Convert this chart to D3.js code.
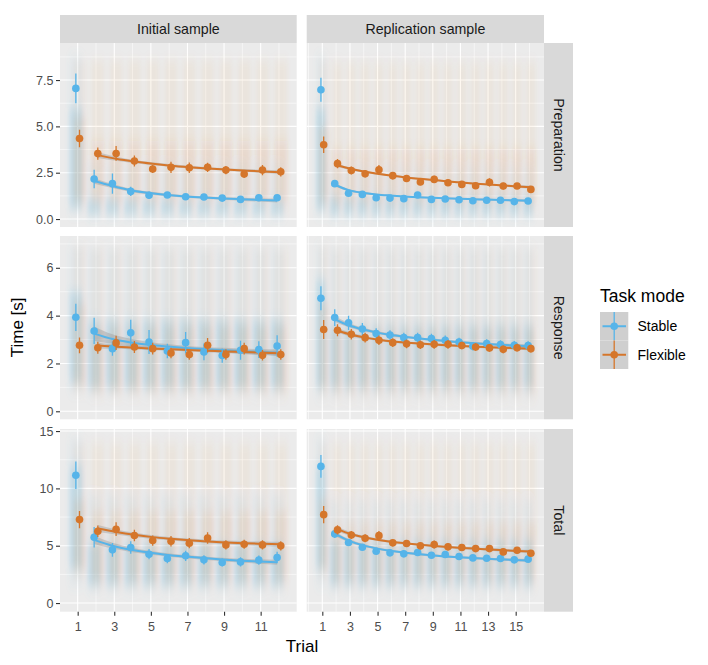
<!DOCTYPE html>
<html><head><meta charset="utf-8">
<script src="https://cdn.jsdelivr.net/npm/d3@7"></script>
<style>
body{margin:0;background:#fff}
svg{display:block}
text{font-family:"Liberation Sans",Arial,Helvetica,sans-serif}
</style>
</head><body>
<svg id="chart" width="708" height="665"></svg>
<script>
// ---------- categories ----------
const samples = ["Initial sample", "Replication sample"];
const measures = ["Preparation", "Response", "Total"];
const modes = ["Stable", "Flexible"];
const modeColors = ["#56B4E9", "#D5762B"];
const trialsInitial = [1,2,3,4,5,6,7,8,9,10,11,12];
const trialsReplication = [1,2,3,4,5,6,7,8,9,10,11,12,13,14,15,16];

// ---------- tick labels ----------
const xTicksInitial = [1,3,5,7,9,11];
const xMinorInitial = [2,4,6,8,10,12];
const xTicksReplication = [1,3,5,7,9,11,13,15];
const xMinorReplication = [0,2,4,6,8,10,12,14,16];
const yTicksPrep = [0,2.5,5,7.5];
const yMinorPrep = [1.25,3.75,6.25,8.75];
const yTicksResp = [0,2,4,6];
const yMinorResp = [1,3,5,7];
const yTicksTot = [0,5,10,15];
const yMinorTot = [2.5,7.5,12.5];

// ---------- means per trial ----------
const prepInitStable   = [7.05,2.16,1.91,1.49,1.28,1.30,1.20,1.19,1.13,1.06,1.15,1.15];
const prepInitFlexible = [4.35,3.53,3.54,3.13,2.70,2.79,2.77,2.79,2.64,2.43,2.64,2.55];
const prepRepStable    = [6.98,1.91,1.39,1.33,1.15,1.13,1.10,1.30,1.06,1.08,1.04,0.99,1.01,1.01,0.94,0.97];
const prepRepFlexible  = [4.01,2.99,2.62,2.44,2.66,2.34,2.19,2.00,2.14,1.96,1.87,1.80,1.98,1.78,1.78,1.60];
const respInitStable   = [3.93,3.36,2.62,3.28,2.90,2.52,2.87,2.48,2.33,2.55,2.58,2.73];
const respInitFlexible = [2.76,2.66,2.86,2.69,2.62,2.44,2.37,2.76,2.37,2.62,2.34,2.37];
const respRepStable    = [4.73,3.92,3.70,3.44,3.25,3.19,3.08,3.08,3.04,2.97,2.90,2.72,2.83,2.79,2.76,2.75];
const respRepFlexible  = [3.42,3.39,3.22,3.08,2.97,2.87,2.82,2.78,2.80,2.80,2.75,2.69,2.65,2.59,2.66,2.62];
const totInitStable    = [11.14,5.74,4.64,4.84,4.26,3.88,4.12,3.77,3.54,3.59,3.74,3.97];
const totInitFlexible  = [7.28,6.26,6.44,5.89,5.45,5.39,5.22,5.68,5.07,5.13,5.07,4.99];
const totRepStable     = [11.92,6.03,5.28,4.87,4.52,4.38,4.29,4.41,4.17,4.23,4.06,3.94,3.91,3.88,3.77,3.83];
const totRepFlexible   = [7.71,6.38,5.94,5.65,5.88,5.25,5.19,4.99,5.10,4.90,4.84,4.75,4.75,4.46,4.61,4.35];

// ---------- error bar half-widths ----------
const prepInitStableErr   = [0.80,0.50,0.55,0.25,0.20,0.15,0.15,0.15,0.12,0.12,0.15,0.15];
const prepInitFlexibleErr = [0.47,0.33,0.40,0.30,0.22,0.30,0.28,0.25,0.22,0.22,0.28,0.25];
const prepRepStableErr    = [0.65,0.15,0.12,0.10,0.10,0.10,0.10,0.12,0.10,0.10,0.10,0.10,0.10,0.10,0.10,0.10];
const prepRepFlexibleErr  = [0.45,0.25,0.22,0.20,0.25,0.20,0.18,0.18,0.20,0.18,0.16,0.16,0.22,0.18,0.16,0.16];
const respInitStableErr   = [0.57,0.55,0.30,0.55,0.50,0.30,0.45,0.35,0.30,0.40,0.35,0.45];
const respInitFlexibleErr = [0.33,0.25,0.30,0.25,0.25,0.22,0.22,0.30,0.22,0.25,0.22,0.22];
const respRepStableErr    = [0.50,0.35,0.30,0.25,0.22,0.20,0.20,0.20,0.20,0.20,0.18,0.18,0.18,0.18,0.18,0.18];
const respRepFlexibleErr  = [0.40,0.25,0.22,0.20,0.20,0.18,0.18,0.18,0.18,0.18,0.16,0.16,0.16,0.16,0.16,0.16];
const totInitStableErr    = [1.20,0.90,0.60,0.55,0.45,0.40,0.45,0.40,0.35,0.40,0.40,0.50];
const totInitFlexibleErr  = [0.75,0.50,0.60,0.50,0.45,0.45,0.45,0.50,0.40,0.40,0.40,0.40];
const totRepStableErr     = [1.00,0.35,0.30,0.25,0.22,0.20,0.20,0.20,0.20,0.20,0.18,0.18,0.18,0.18,0.18,0.18];
const totRepFlexibleErr   = [0.75,0.40,0.35,0.35,0.40,0.30,0.30,0.30,0.35,0.30,0.28,0.28,0.28,0.28,0.28,0.28];

// ---------- fitted curves (trial 2 .. last) ----------
const prepInitStableFit   = [2.05,1.78,1.55,1.40,1.30,1.22,1.16,1.11,1.07,1.03,1.00];
const prepInitFlexibleFit = [3.45,3.25,3.10,2.98,2.88,2.80,2.73,2.67,2.62,2.57,2.53];
const prepRepStableFit    = [1.85,1.56,1.42,1.33,1.27,1.22,1.18,1.15,1.12,1.09,1.07,1.05,1.03,1.01,0.99];
const prepRepFlexibleFit  = [2.90,2.70,2.55,2.43,2.33,2.24,2.17,2.10,2.03,1.97,1.91,1.86,1.81,1.76,1.72];
const respInitStableFit   = [3.25,3.02,2.88,2.78,2.71,2.65,2.60,2.56,2.52,2.48,2.45];
const respInitFlexibleFit = [2.75,2.70,2.66,2.62,2.59,2.56,2.53,2.50,2.48,2.45,2.43];
const respRepStableFit    = [3.85,3.60,3.43,3.30,3.20,3.12,3.05,2.99,2.94,2.89,2.85,2.81,2.78,2.75,2.72];
const respRepFlexibleFit  = [3.38,3.20,3.08,2.99,2.92,2.87,2.83,2.79,2.76,2.73,2.70,2.68,2.66,2.64,2.62];
const totInitStableFit    = [5.51,5.00,4.65,4.40,4.20,4.05,3.92,3.80,3.70,3.62,3.55];
const totInitFlexibleFit  = [6.50,6.20,5.95,5.75,5.60,5.47,5.37,5.29,5.22,5.17,5.12];
const totRepStableFit     = [6.05,5.45,5.05,4.77,4.56,4.40,4.27,4.16,4.07,3.99,3.92,3.86,3.81,3.76,3.72];
const totRepFlexibleFit   = [6.45,6.00,5.72,5.50,5.33,5.20,5.08,4.98,4.89,4.81,4.74,4.67,4.61,4.55,4.50];

// ---------- confidence band half-widths of the fits ----------
const prepInitStableSe   = [0.15,0.11,0.09,0.08,0.07,0.07,0.07,0.07,0.08,0.09,0.11];
const prepInitFlexibleSe = [0.15,0.11,0.09,0.08,0.07,0.07,0.07,0.07,0.08,0.09,0.11];
const prepRepStableSe    = [0.08,0.06,0.05,0.05,0.04,0.04,0.04,0.04,0.04,0.04,0.04,0.05,0.05,0.06,0.07];
const prepRepFlexibleSe  = [0.09,0.07,0.06,0.05,0.05,0.05,0.05,0.05,0.05,0.05,0.05,0.05,0.06,0.07,0.08];
const respInitStableSe   = [0.30,0.20,0.15,0.12,0.10,0.09,0.09,0.10,0.11,0.12,0.14];
const respInitFlexibleSe = [0.12,0.09,0.08,0.07,0.06,0.06,0.06,0.07,0.08,0.09,0.10];
const respRepStableSe    = [0.12,0.09,0.07,0.06,0.06,0.05,0.05,0.05,0.05,0.05,0.05,0.06,0.06,0.07,0.08];
const respRepFlexibleSe  = [0.10,0.08,0.06,0.05,0.05,0.05,0.05,0.05,0.05,0.05,0.05,0.05,0.06,0.07,0.08];
const totInitStableSe    = [0.35,0.25,0.20,0.17,0.15,0.15,0.15,0.16,0.17,0.19,0.22];
const totInitFlexibleSe  = [0.30,0.22,0.18,0.16,0.15,0.15,0.15,0.16,0.17,0.19,0.22];
const totRepStableSe     = [0.20,0.15,0.12,0.10,0.09,0.09,0.09,0.09,0.09,0.09,0.10,0.10,0.11,0.12,0.14];
const totRepFlexibleSe   = [0.20,0.15,0.12,0.10,0.09,0.09,0.09,0.09,0.09,0.09,0.10,0.10,0.11,0.12,0.14];

// ---------- raw-data clouds: [outerLo, outerHi, coreLo, coreHi] for trial 1, then other trials ----------
const cloudPrepInitStable   = [[0.3,8.8,0.6,6.0],[0.1,3.0,0.25,1.05]];
const cloudPrepInitFlexible = [[0.5,8.6,1.0,5.5],[0.3,8.6,0.9,4.2]];
const cloudPrepRepStable    = [[0.2,8.8,0.5,6.0],[0.1,2.8,0.2,1.2]];
const cloudPrepRepFlexible  = [[0.4,8.6,0.9,5.0],[0.3,8.5,0.8,3.8]];
const cloudRespInitStable   = [[0.8,6.9,1.2,5.0],[0.7,6.8,1.0,3.8]];
const cloudRespInitFlexible = [[0.8,6.9,1.1,4.5],[0.6,6.8,0.9,3.6]];
const cloudRespRepStable    = [[0.6,6.9,1.0,5.5],[0.6,6.8,1.0,3.6]];
const cloudRespRepFlexible  = [[0.6,6.9,1.0,4.5],[0.5,6.8,0.9,3.5]];
const cloudTotInitStable    = [[1.5,14.4,3.0,12.0],[1.0,9.5,1.6,5.2]];
const cloudTotInitFlexible  = [[2.0,14.0,3.0,9.0],[1.2,14.0,2.0,8.0]];
const cloudTotRepStable     = [[1.5,14.4,3.0,12.0],[1.0,9.0,1.6,5.5]];
const cloudTotRepFlexible   = [[2.0,14.0,3.0,9.0],[1.2,14.0,2.0,7.0]];

// ---------- layout ----------
const W = 708, H = 665;
const colX = [[60, 296.7], [306.7, 544]];
const rowY = [[43, 227], [236, 419.3], [429, 611.7]];
const xDomains = [[0.034, 12.97], [-0.13, 17.05]];
const yDomains = [[-0.43, 9.5], [-0.335, 7.33], [-0.754, 15.18]];
const dodge = [-0.1, 0.1];

const trialsByCol = [trialsInitial, trialsReplication];
const xTicksByCol = [xTicksInitial, xTicksReplication];
const xMinorByCol = [xMinorInitial, xMinorReplication];
const yTicksByRow = [yTicksPrep, yTicksResp, yTicksTot];
const yMinorByRow = [yMinorPrep, yMinorResp, yMinorTot];
const yFmtByRow = [d3.format(".1f"), d3.format("d"), d3.format("d")];

const panelData = [
  [ // Preparation
    [[prepInitStable, prepInitStableErr, prepInitStableFit, prepInitStableSe, cloudPrepInitStable],
     [prepInitFlexible, prepInitFlexibleErr, prepInitFlexibleFit, prepInitFlexibleSe, cloudPrepInitFlexible]],
    [[prepRepStable, prepRepStableErr, prepRepStableFit, prepRepStableSe, cloudPrepRepStable],
     [prepRepFlexible, prepRepFlexibleErr, prepRepFlexibleFit, prepRepFlexibleSe, cloudPrepRepFlexible]]
  ],
  [ // Response
    [[respInitStable, respInitStableErr, respInitStableFit, respInitStableSe, cloudRespInitStable],
     [respInitFlexible, respInitFlexibleErr, respInitFlexibleFit, respInitFlexibleSe, cloudRespInitFlexible]],
    [[respRepStable, respRepStableErr, respRepStableFit, respRepStableSe, cloudRespRepStable],
     [respRepFlexible, respRepFlexibleErr, respRepFlexibleFit, respRepFlexibleSe, cloudRespRepFlexible]]
  ],
  [ // Total
    [[totInitStable, totInitStableErr, totInitStableFit, totInitStableSe, cloudTotInitStable],
     [totInitFlexible, totInitFlexibleErr, totInitFlexibleFit, totInitFlexibleSe, cloudTotInitFlexible]],
    [[totRepStable, totRepStableErr, totRepStableFit, totRepStableSe, cloudTotRepStable],
     [totRepFlexible, totRepFlexibleErr, totRepFlexibleFit, totRepFlexibleSe, cloudTotRepFlexible]]
  ]
];

const svg = d3.select("#chart");
svg.append("rect").attr("width", W).attr("height", H).attr("fill", "#fff");
const defs = svg.append("defs");
const blur = defs.append("filter").attr("id", "blur")
  .attr("x", "-50%").attr("y", "-30%").attr("width", "200%").attr("height", "160%");
blur.append("feGaussianBlur").attr("stdDeviation", "2.2 6");

let pid = 0;
measures.forEach((m, r) => {
  samples.forEach((s, c) => {
    const [x0, x1] = colX[c], [y0, y1] = rowY[r];
    const x = d3.scaleLinear().domain(xDomains[c]).range([x0, x1]);
    const y = d3.scaleLinear().domain(yDomains[r]).range([y1, y0]);
    const trials = trialsByCol[c];
    const g = svg.append("g");
    const clipId = "clip" + (pid++);
    defs.append("clipPath").attr("id", clipId).append("rect")
      .attr("x", x0).attr("y", y0).attr("width", x1 - x0).attr("height", y1 - y0);

    g.append("rect").attr("x", x0).attr("y", y0).attr("width", x1 - x0).attr("height", y1 - y0).attr("fill", "#EBEBEB");

    // grid
    const grid = g.append("g").attr("stroke", "#fff");
    const inX = v => v >= xDomains[c][0] && v <= xDomains[c][1];
    const inY = v => v >= yDomains[r][0] && v <= yDomains[r][1];
    yMinorByRow[r].filter(inY).forEach(v => grid.append("line").attr("x1", x0).attr("x2", x1).attr("y1", y(v)).attr("y2", y(v)).attr("stroke-width", 0.55));
    xMinorByCol[c].filter(inX).forEach(v => grid.append("line").attr("y1", y0).attr("y2", y1).attr("x1", x(v)).attr("x2", x(v)).attr("stroke-width", 0.55));
    yTicksByRow[r].forEach(v => grid.append("line").attr("x1", x0).attr("x2", x1).attr("y1", y(v)).attr("y2", y(v)).attr("stroke-width", 1.1));
    xTicksByCol[c].forEach(v => grid.append("line").attr("y1", y0).attr("y2", y1).attr("x1", x(v)).attr("x2", x(v)).attr("stroke-width", 1.1));

    const cg = g.append("g").attr("clip-path", `url(#${clipId})`);
    const series = panelData[r][c];

    // raw-data clouds (blurred bands read from the jittered points)
    const cloudG = cg.append("g").attr("filter", "url(#blur)");
    series.forEach((sd, k) => {
      const cloud = sd[4];
      trials.forEach(t => {
        const cl = t === 1 ? cloud[0] : cloud[1];
        const xa = x(t + dodge[k] - 0.36), xb = x(t + dodge[k] + 0.36);
        cloudG.append("rect").attr("x", xa).attr("width", xb - xa)
          .attr("y", y(cl[1])).attr("height", y(cl[0]) - y(cl[1]))
          .attr("fill", modeColors[k]).attr("opacity", k === 0 ? 0.07 : 0.06);
        cloudG.append("rect").attr("x", xa).attr("width", xb - xa)
          .attr("y", y(cl[3])).attr("height", y(cl[2]) - y(cl[3]))
          .attr("fill", modeColors[k]).attr("opacity", k === 0 ? 0.22 : 0.10);
      });
    });

    // fits
    series.forEach((sd, k) => {
      const fit = sd[2], se = sd[3];
      const pts = fit.map((v, i) => ({t: trials[i + 1] + dodge[k], v, se: se[i]}));
      cg.append("path").datum(pts)
        .attr("d", d3.area().curve(d3.curveMonotoneX).x(d => x(d.t)).y0(d => y(d.v - d.se)).y1(d => y(d.v + d.se)))
        .attr("fill", "#999999").attr("opacity", 0.4);
      cg.append("path").datum(pts)
        .attr("d", d3.line().curve(d3.curveMonotoneX).x(d => x(d.t)).y(d => y(d.v)))
        .attr("fill", "none").attr("stroke", modeColors[k]).attr("stroke-width", 2);
    });

    // point ranges
    series.forEach((sd, k) => {
      const mean = sd[0], err = sd[1];
      trials.forEach((t, i) => {
        const xp = x(t + dodge[k]);
        cg.append("line").attr("x1", xp).attr("x2", xp)
          .attr("y1", y(mean[i] - err[i])).attr("y2", y(mean[i] + err[i]))
          .attr("stroke", modeColors[k]).attr("stroke-width", 1.3);
        cg.append("circle").attr("cx", xp).attr("cy", y(mean[i])).attr("r", 3.8).attr("fill", modeColors[k]);
      });
    });

    // axes
    if (c === 0) {
      const ax = svg.append("g").attr("transform", `translate(${x0},0)`)
        .call(d3.axisLeft(y).tickValues(yTicksByRow[r]).tickFormat(yFmtByRow[r]).tickSize(4).tickPadding(2.5));
      ax.select(".domain").remove();
      ax.selectAll("line").attr("stroke", "#333").attr("stroke-width", 1.1);
      ax.selectAll("text").attr("fill", "#4D4D4D").style("font-size", "12.5px")
        .style("font-family", '"Liberation Sans",Arial,sans-serif');
    }
    if (r === 2) {
      const ax = svg.append("g").attr("transform", `translate(0,${y1})`)
        .call(d3.axisBottom(x).tickValues(xTicksByCol[c]).tickFormat(d3.format("d")).tickSize(4).tickPadding(6));
      ax.select(".domain").remove();
      ax.selectAll("line").attr("stroke", "#333").attr("stroke-width", 1.1);
      ax.selectAll("text").attr("fill", "#4D4D4D").style("font-size", "12.5px")
        .style("font-family", '"Liberation Sans",Arial,sans-serif');
    }
    // strips
    if (r === 0) {
      svg.append("rect").attr("x", x0).attr("y", 15).attr("width", x1 - x0).attr("height", y0 - 15).attr("fill", "#D9D9D9");
      svg.append("text").attr("x", (x0 + x1) / 2).attr("y", 34).attr("text-anchor", "middle")
        .attr("fill", "#1A1A1A").style("font-size", "14.2px").text(s);
    }
    if (c === 1) {
      svg.append("rect").attr("x", x1).attr("y", y0).attr("width", 29).attr("height", y1 - y0).attr("fill", "#D9D9D9");
      svg.append("text").attr("transform", `translate(${x1 + 14.5},${(y0 + y1) / 2}) rotate(90)`)
        .attr("text-anchor", "middle").attr("dy", "0.35em")
        .attr("fill", "#1A1A1A").style("font-size", "14.2px").text(m);
    }
  });
});

// axis titles
svg.append("text").attr("x", (colX[0][0] + colX[1][1]) / 2).attr("y", 651.5).attr("text-anchor", "middle")
  .attr("fill", "#000").style("font-size", "17px").text("Trial");
svg.append("text").attr("transform", `translate(23,${(rowY[0][0] + rowY[2][1]) / 2}) rotate(-90)`)
  .attr("text-anchor", "middle").attr("fill", "#000").style("font-size", "17px").text("Time [s]");

// legend
const lg = svg.append("g");
lg.append("text").attr("x", 600).attr("y", 301.5).attr("fill", "#000").style("font-size", "17.5px").text("Task mode");
modes.forEach((md, k) => {
  const ky = 312 + k * 28.5;
  lg.append("rect").attr("x", 600).attr("y", ky).attr("width", 28.3).attr("height", 28.5).attr("fill", "#CFCFCF");
  const cx = 614.2, cy = ky + 14.25;
  lg.append("line").attr("x1", 602.5).attr("x2", 626).attr("y1", cy).attr("y2", cy).attr("stroke", modeColors[k]).attr("stroke-width", 2);
  lg.append("line").attr("x1", cx).attr("x2", cx).attr("y1", ky).attr("y2", ky + 28.5).attr("stroke", modeColors[k]).attr("stroke-width", 1.3);
  lg.append("circle").attr("cx", cx).attr("cy", cy).attr("r", 3.8).attr("fill", modeColors[k]);
  lg.append("text").attr("x", 637.5).attr("y", cy).attr("dy", "0.35em").attr("fill", "#000").style("font-size", "14px").text(md);
});
</script>
</body></html>
